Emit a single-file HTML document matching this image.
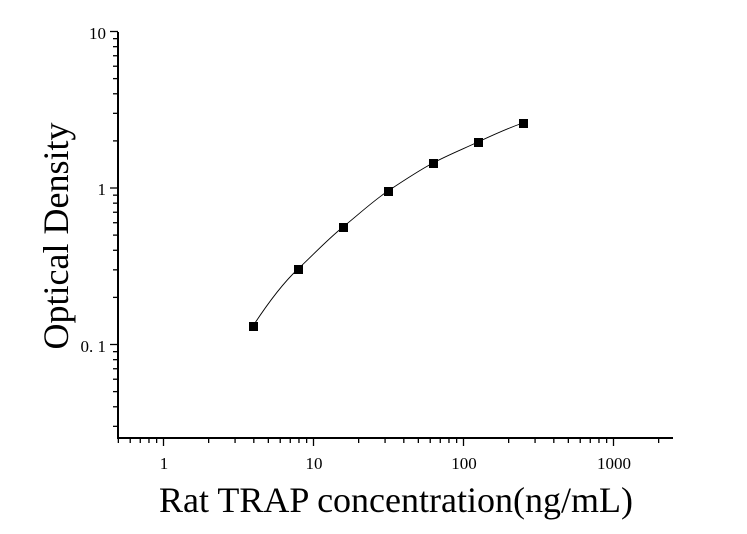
<!DOCTYPE html>
<html><head><meta charset="utf-8"><style>
html,body{margin:0;padding:0;background:#fff;width:747px;height:534px;overflow:hidden}
svg{display:block}
text{font-family:"Liberation Serif",serif;fill:#000}
</style></head><body>
<svg id="s" width="747" height="534" viewBox="0 0 747 534">
<g id="ticks" stroke="#000" stroke-width="1.3"></g>
<line x1="118" y1="32" x2="118" y2="439" stroke="#000" stroke-width="2"/>
<line x1="117" y1="438" x2="673" y2="438" stroke="#000" stroke-width="2"/>
<path d="M253,326 C268,303 283,283 298,269 C313,255 328,239 343,227 C358,215 373,201 388,191 C403,181 418,171 433,163 C448,155 463,149 478,142 C493,135 508,128 523,123" fill="none" stroke="#000" stroke-width="0.9"/>
<g fill="#000">
<rect x="249" y="322" width="9" height="9"/>
<rect x="294" y="265" width="9" height="9"/>
<rect x="339" y="223" width="9" height="9"/>
<rect x="384" y="187" width="9" height="9"/>
<rect x="429" y="159" width="9" height="9"/>
<rect x="474" y="138" width="9" height="9"/>
<rect x="519" y="119" width="9" height="9"/>
</g>
<g font-size="17" text-anchor="end">
<text x="106" y="39">10</text>
<text x="106" y="195">1</text>
<text x="106" y="352">0. 1</text>
</g>
<g font-size="17" text-anchor="middle">
<text x="164" y="469">1</text>
<text x="314" y="469">10</text>
<text x="464" y="469">100</text>
<text x="614" y="469">1000</text>
</g>
<text x="396" y="512" font-size="36" text-anchor="middle">Rat TRAP concentration(ng/mL)</text>
<text transform="translate(68,236) rotate(-90)" font-size="36" text-anchor="middle">Optical Density</text>
</svg>
<script>
var g=document.getElementById('ticks'),ns='http://www.w3.org/2000/svg';
function L(a,b,c,d){var l=document.createElementNS(ns,'line');l.setAttribute('x1',a);l.setAttribute('y1',b);l.setAttribute('x2',c);l.setAttribute('y2',d);g.appendChild(l);}
for(var e=-1;e<=3;e++){for(var m=1;m<10;m++){var x=163.5+150*(e+Math.log10(m));if(x<118||x>673)continue;if(m==1)L(x,438,x,446);else L(x,438,x,443);}}
for(var e=-2;e<=1;e++){for(var m=1;m<10;m++){var y=188-156.5*(e+Math.log10(m));if(y<31||y>438)continue;if(m==1)L(118,y,110,y);else L(118,y,113,y);}}
</script>
</body></html>
